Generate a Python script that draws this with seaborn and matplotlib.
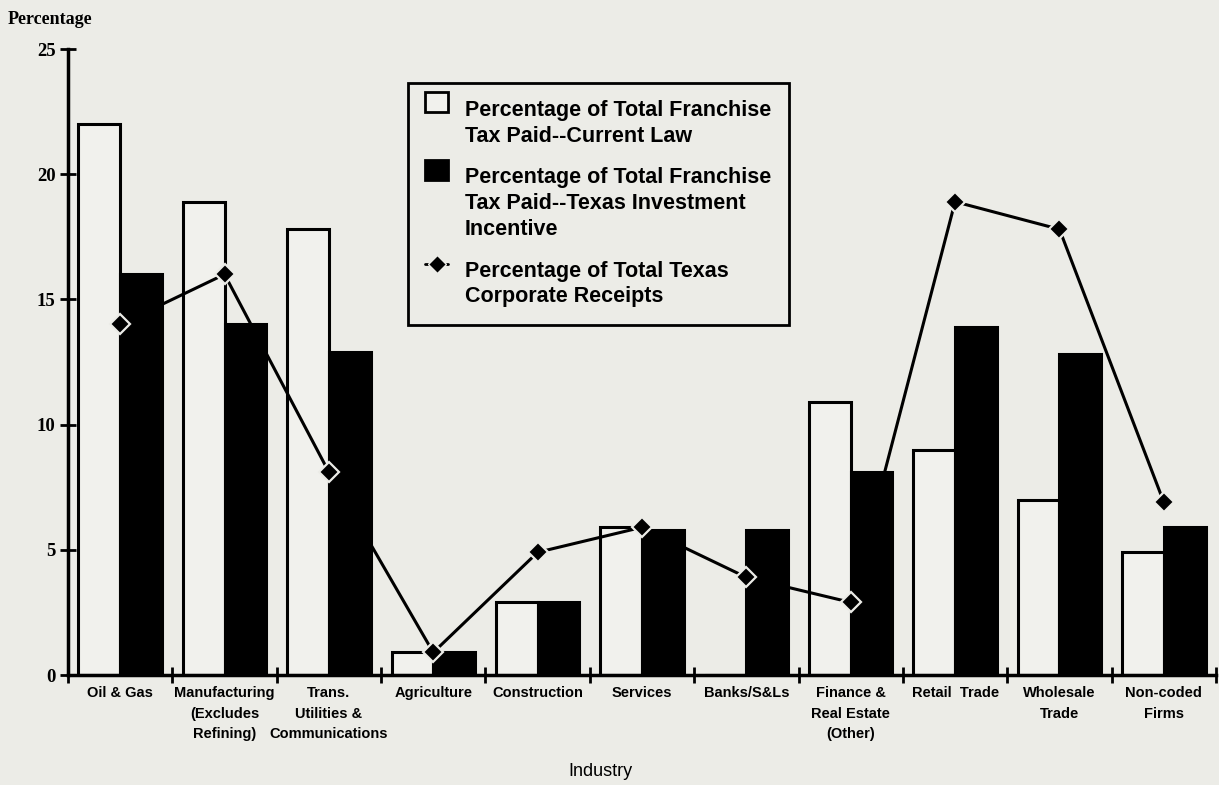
import matplotlib
matplotlib.use("Agg")
import matplotlib.pyplot as plt
import seaborn as sns
import pandas as pd
import numpy as np
from matplotlib.patches import Patch
from matplotlib.lines import Line2D

# ---- data ----
industries = [
    "Oil & Gas",
    "Manufacturing\n(Excludes\nRefining)",
    "Trans.\nUtilities &\nCommunications",
    "Agriculture",
    "Construction",
    "Services",
    "Banks/S&Ls",
    "Finance &\nReal Estate\n(Other)",
    "Retail  Trade",
    "Wholesale\nTrade",
    "Non-coded\nFirms",
]
current_law = [22.0, 18.9, 17.8, 0.9, 2.9, 5.9, 0.0, 10.9, 9.0, 7.0, 4.9]
investment_incentive = [16.0, 14.0, 12.9, 0.9, 2.9, 5.8, 5.8, 8.1, 13.9, 12.8, 5.9]
corporate_receipts = [14.0, 16.0, 8.1, 0.9, 4.9, 5.9, 3.9, 2.9, 18.9, 17.8, 6.9]

series_names = [
    "Percentage of Total Franchise\nTax Paid--Current Law",
    "Percentage of Total Franchise\nTax Paid--Texas Investment\nIncentive",
    "Percentage of Total Texas\nCorporate Receipts",
]
y_ticks = [0, 5, 10, 15, 20, 25]

BG = "#ecece7"
PAPER = "#f1f1ed"

sns.set_theme(style="ticks")
plt.rcParams["font.family"] = ["Liberation Sans", "DejaVu Sans"]

fig = plt.figure(figsize=(12.19, 7.85), dpi=100, facecolor=BG)
ax = fig.add_axes([68 / 1219, 110 / 785, 1148 / 1219, 626 / 785])
ax.set_facecolor(BG)

df = pd.DataFrame({
    "industry": industries * 2,
    "value": current_law + investment_incentive,
    "series": [series_names[0]] * len(industries) + [series_names[1]] * len(industries),
})

sns.barplot(data=df, x="industry", y="value", hue="series", order=industries,
            hue_order=series_names[:2], palette=[PAPER, "black"], saturation=1,
            edgecolor="black", linewidth=2.2, width=0.8, ax=ax, legend=False,
            errorbar=None)

sns.pointplot(x=industries, y=corporate_receipts, order=industries, color="black",
              markers="D", linestyles="-", errorbar=None, ax=ax,
              markersize=10.5, linewidth=2.2, markeredgecolor=BG, markeredgewidth=1.6)

ax.set_xlim(-0.5, len(industries) - 0.5)
ax.set_ylim(0, 25)
ax.set_yticks(y_ticks)
ax.set_xticks(np.arange(-0.5, len(industries), 1), minor=True)

sns.despine(ax=ax, top=True, right=True)
for s in ("left", "bottom"):
    ax.spines[s].set_linewidth(2.5)
    ax.spines[s].set_color("black")

ax.tick_params(axis="x", which="major", length=0, pad=8)
ax.tick_params(axis="x", which="minor", direction="inout", length=12, width=2, color="black")
ax.tick_params(axis="y", which="major", direction="inout", length=12, width=2, color="black", pad=3)

for lab in ax.get_xticklabels():
    lab.set_family(["Liberation Sans Narrow", "Liberation Sans", "DejaVu Sans"])
    lab.set_fontweight("bold")
    lab.set_fontsize(10.5)
    lab.set_linespacing(1.6)
    lab.set_color("black")
for lab in ax.get_yticklabels():
    lab.set_family(["Liberation Serif", "DejaVu Serif"])
    lab.set_fontweight("bold")
    lab.set_fontsize(13.5)
    lab.set_color("black")

ax.set_ylabel("")
ax.set_xlabel("Industry", fontsize=13, color="black",
              family=["Liberation Sans", "DejaVu Sans"])
ax.xaxis.set_label_coords((600 - 68) / 1148, (675 - 763) / 626)

fig.text(8 / 1219, 1 - 19 / 785, "Percentage", ha="left", va="center",
         fontsize=13, fontweight="bold", color="black",
         family=["Liberation Serif", "DejaVu Serif"])

handles = [
    Patch(facecolor=PAPER, edgecolor="black", linewidth=2),
    Patch(facecolor="black", edgecolor="black", linewidth=2),
    Line2D([], [], color="black", marker="D", markersize=9, linewidth=2,
           markeredgecolor=BG, markeredgewidth=1),
]
LEG_FS = 15.5
LINESP = 1.3
leg = ax.legend(handles, series_names, loc="upper left",
                bbox_to_anchor=((408 - 68) / 1148, (675 - 83) / 626),
                frameon=True, fancybox=False, edgecolor="black", facecolor=BG,
                framealpha=1, prop={"family": ["Liberation Sans", "DejaVu Sans"],
                                    "weight": "bold", "size": LEG_FS},
                handlelength=1.05, handleheight=1.05, handletextpad=0.8,
                labelspacing=0.95, borderpad=0.8, borderaxespad=0)
leg.get_frame().set_linewidth(2)
for t in leg.get_texts():
    t.set_linespacing(LINESP)
    t.set_color("black")

# align each handle with (just above) the first line of its multi-line label
pitch_pt = LEG_FS * LINESP * 0.9
extra_pt = [5.5, 5.0, 5.0]
for h, name, ex in zip(leg.legend_handles, series_names, extra_pt):
    n = name.count("\n")
    off = n / 2 * pitch_pt + ex
    if hasattr(h, "set_y") and hasattr(h, "get_y"):
        h.set_y(h.get_y() + off + 1.5)
    else:
        h.set_ydata(np.asarray(h.get_ydata()) + off)

fig.savefig("out.png", dpi=100, facecolor=BG)
